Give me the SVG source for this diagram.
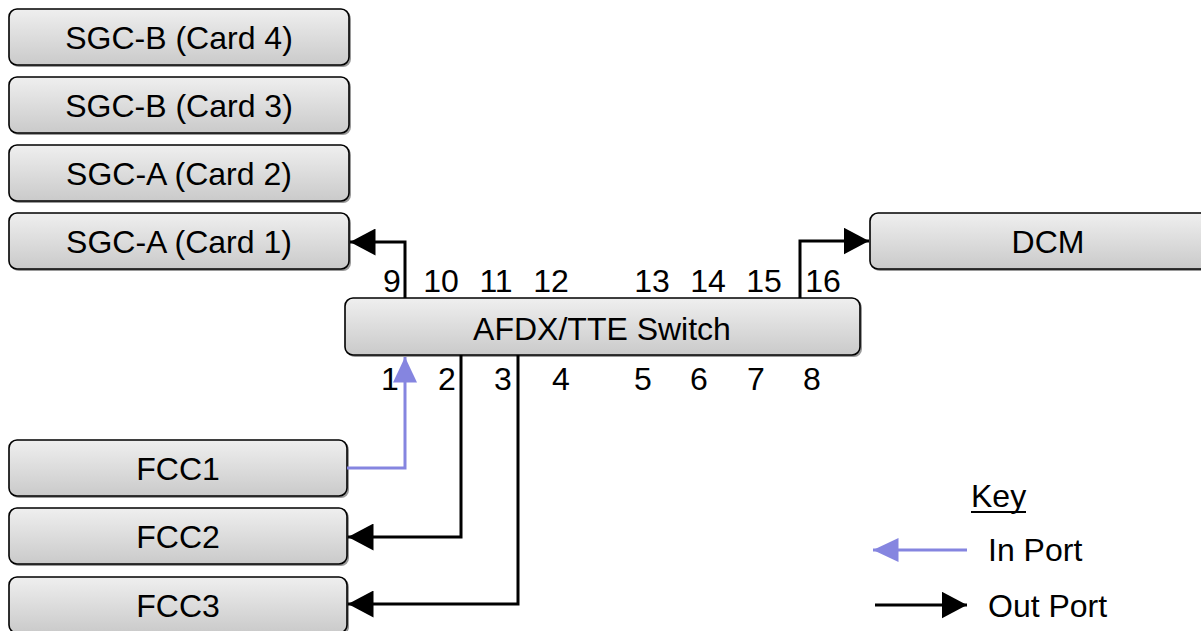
<svg xmlns="http://www.w3.org/2000/svg" width="1201" height="631" viewBox="0 0 1201 631">
<style>
.box{fill:url(#g);stroke:#000;stroke-width:1.6}
.sh{fill:#9a9a9a}
.t{font-family:"Liberation Sans",Arial,sans-serif;font-size:32px;fill:#000}
.c{text-anchor:middle}
.ln{fill:none;stroke:#000;stroke-width:3}
.bl{fill:none;stroke:#8585e0;stroke-width:3}
</style>
<defs>
<linearGradient id="g" x1="0" y1="0" x2="0" y2="1">
<stop offset="0" stop-color="#efefef"/>
<stop offset="1" stop-color="#cacaca"/>
</linearGradient>
<marker id="ab" markerWidth="9" markerHeight="9" refX="8.5" refY="4.5" orient="auto" markerUnits="strokeWidth"><path d="M0,0 L8.5,4.5 L0,9 Z" fill="#000"/></marker>
<marker id="au" markerWidth="9" markerHeight="9" refX="8.5" refY="4" orient="auto" markerUnits="strokeWidth"><path d="M0,0 L8.5,4 L0,8 Z" fill="#8585e0"/></marker>
</defs>
<g id="sgcb4"><rect class="sh" x="11" y="11" width="340" height="56" rx="8"/><rect class="box" x="9" y="9" width="340" height="56" rx="8"/><text class="t c" x="179" y="49">SGC-B (Card 4)</text></g>
<g id="sgcb3"><rect class="sh" x="11" y="79" width="340" height="56" rx="8"/><rect class="box" x="9" y="77" width="340" height="56" rx="8"/><text class="t c" x="179" y="117">SGC-B (Card 3)</text></g>
<g id="sgca2"><rect class="sh" x="11" y="147" width="340" height="56" rx="8"/><rect class="box" x="9" y="145" width="340" height="56" rx="8"/><text class="t c" x="179" y="185">SGC-A (Card 2)</text></g>
<g id="sgca1"><rect class="sh" x="11" y="215" width="340" height="56" rx="8"/><rect class="box" x="9" y="213" width="340" height="56" rx="8"/><text class="t c" x="179" y="253">SGC-A (Card 1)</text></g>
<g id="dcm"><rect class="sh" x="872" y="215" width="340" height="56" rx="8"/><rect class="box" x="870" y="213" width="340" height="56" rx="8"/><text class="t c" x="1048" y="253">DCM</text></g>
<g id="fcc1"><rect class="sh" x="11" y="442" width="338" height="56" rx="8"/><rect class="box" x="9" y="440" width="338" height="56" rx="8"/><text class="t c" x="178" y="480">FCC1</text></g>
<g id="fcc2"><rect class="sh" x="11" y="510" width="338" height="56" rx="8"/><rect class="box" x="9" y="508" width="338" height="56" rx="8"/><text class="t c" x="178" y="548">FCC2</text></g>
<g id="fcc3"><rect class="sh" x="11" y="579" width="338" height="56" rx="8"/><rect class="box" x="9" y="577" width="338" height="56" rx="8"/><text class="t c" x="178" y="617">FCC3</text></g>
<g id="switch"><rect class="sh" x="347" y="300" width="515" height="57" rx="8"/><rect class="box" x="345" y="298" width="515" height="57" rx="8"/><text class="t c" x="602" y="340">AFDX/TTE Switch</text></g>
<g id="ports">
<text class="t c" x="392" y="292">9</text>
<text class="t c" x="441" y="292">10</text>
<text class="t c" x="496" y="292">11</text>
<text class="t c" x="551" y="292">12</text>
<text class="t c" x="652" y="292">13</text>
<text class="t c" x="708" y="292">14</text>
<text class="t c" x="764" y="292">15</text>
<text class="t c" x="823" y="292">16</text>
<text class="t c" x="390" y="390">1</text>
<text class="t c" x="447" y="390">2</text>
<text class="t c" x="503" y="390">3</text>
<text class="t c" x="561" y="390">4</text>
<text class="t c" x="643" y="390">5</text>
<text class="t c" x="699" y="390">6</text>
<text class="t c" x="756" y="390">7</text>
<text class="t c" x="812" y="390">8</text>
</g>
<g id="connectors">
<polyline class="ln" points="405,298 405,242 350,242" marker-end="url(#ab)"/>
<polyline class="ln" points="800,298 800,241 869,241" marker-end="url(#ab)"/>
<polyline class="bl" points="347,468 405,468 405,357" marker-end="url(#au)"/>
<polyline class="ln" points="461,355 461,537 348,537" marker-end="url(#ab)"/>
<polyline class="ln" points="518,355 518,604 348,604" marker-end="url(#ab)"/>
</g>
<g id="key">
<text class="t" x="971" y="507">Key</text>
<line x1="971" y1="512" x2="1026" y2="512" stroke="#000" stroke-width="2"/>
<line class="bl" x1="967" y1="550" x2="873" y2="550" marker-end="url(#au)"/>
<text class="t" x="988" y="561">In Port</text>
<line class="ln" x1="875" y1="605" x2="967" y2="605" marker-end="url(#ab)"/>
<text class="t" x="988" y="617">Out Port</text>
</g>
</svg>
